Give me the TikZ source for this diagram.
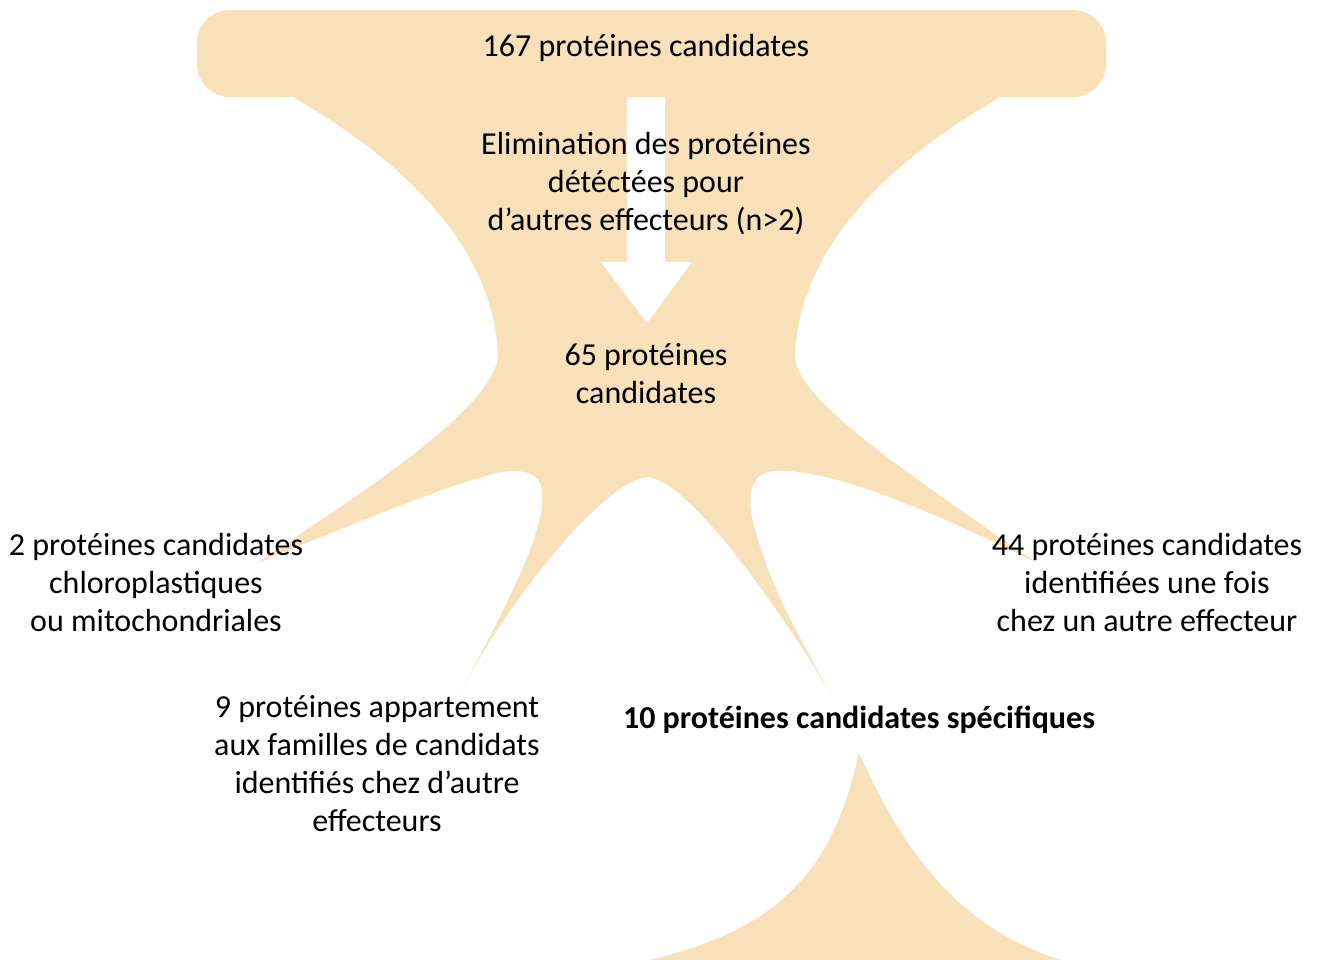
\documentclass[tikz,border=0pt]{standalone}
\usepackage{fontspec}
\setmainfont{Carlito}
\definecolor{beige}{RGB}{248,224,185}
\begin{document}
\begin{tikzpicture}[x=1pt,y=-1pt,
  txt/.style={align=center,inner sep=0pt,font=\fontsize{32}{38}\selectfont},
  blob/.style={fill=beige,draw=none}]
\useasboundingbox (0,0) rectangle (1319,960);
% top rounded bar
\fill[beige,rounded corners=33] (197,10) rectangle (1106,97);
% body
\path[blob] (293,80) -- (293,97)
  .. controls (393,155) and (493,240) .. (498,355)
  .. controls (495,410) and (350,500) .. (257,563)
  .. controls (340,530) and (470,474) .. (510,471)
  .. controls (530,470) and (544,478) .. (542,495)
  .. controls (545,530) and (510,600) .. (460,693)
  .. controls (520,580) and (610,480) .. (647,477)
  .. controls (690,480) and (780,610) .. (833,697)
  .. controls (800,640) and (770,585) .. (755,530)
  .. controls (748,505) and (745,472) .. (775,471)
  .. controls (830,468) and (930,510) .. (1037,563)
  .. controls (880,455) and (795,395) .. (795,355)
  .. controls (800,240) and (900,155) .. (1000,97)
  -- (1000,80) -- cycle;
% bottom spike
\path[blob] (640,962) .. controls (790,930) and (835,860) .. (859,753)
  .. controls (905,855) and (960,930) .. (1067,962) -- cycle;
% white arrow
\fill[white] (627,97) -- (665,97) -- (665,262) -- (692,262) -- (647,323)
  -- (601,262) -- (627,262) -- cycle;
% texts
\node[txt] (t167) at (646,48) {167 protéines candidates};
\node[txt] (elim) at (646,184) {Elimination des protéines\\détéctées pour\\d’autres effecteurs (n>2)};
\node[txt] (t65) at (646,374) {65 protéines\\candidates};
\node[txt] (t2) at (156,583) {2 protéines candidates\\chloroplastiques\\ou mitochondriales};
\node[txt] (t9) at (377,764) {9 protéines appartement\\aux familles de candidats\\identifiés chez d’autre\\effecteurs};
\node[txt,font=\fontsize{32}{38}\selectfont\bfseries] (t10) at (859,720) {10 protéines candidates spécifiques};
\node[txt] (t44) at (1147,583) {44 protéines candidates\\identifiées une fois\\chez un autre effecteur};
\end{tikzpicture}
\end{document}
